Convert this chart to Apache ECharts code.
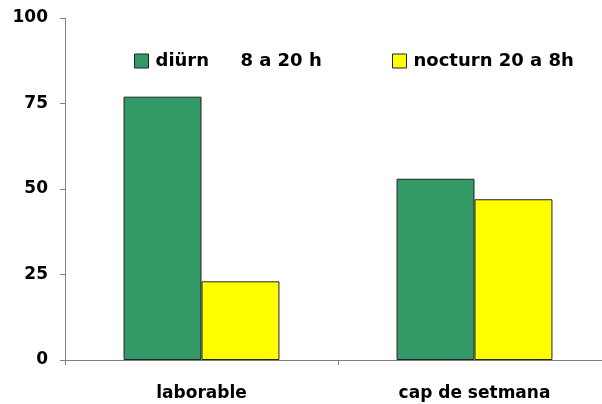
<!DOCTYPE html>
<html>
<head>
<meta charset="utf-8">
<script src="https://cdn.jsdelivr.net/npm/echarts@6/dist/echarts.min.js"></script>
<style>
  html, body { margin: 0; padding: 0; background: #fff; overflow: hidden; width: 602px; height: 404px; }
  /* the drawing surface is a little wider than the window; the right end of the x axis runs off-screen */
  #chart { width: 620px; height: 404px; }
</style>
</head>
<body>
<div id="chart"></div>
<script>
// Share of activity by time band, weekdays vs weekend
const categories = ['laborable', 'cap de setmana'];
const dayName = 'diürn     8 a 20 h';
const nightName = 'nocturn 20 a 8h';
const dayValues = [77, 53];
const nightValues = [23, 47];
const yTicks = [0, 25, 50, 75, 100];

const font = 'DejaVu Sans';
const axisGray = '#808080';

const chart = echarts.init(document.getElementById('chart'), null, { renderer: 'canvas' });

const legendBase = {
  top: 52,
  padding: 0,
  itemWidth: 14,
  itemHeight: 14,
  icon: 'rect',
  selectedMode: false,
  textStyle: { fontFamily: font, fontWeight: 'bold', fontSize: 18, color: '#000', padding: [0, 0, 0, 2] },
  itemStyle: { borderColor: '#222', borderWidth: 1 }
};

chart.setOption({
  animation: false,
  backgroundColor: '#fff',
  legend: [
    Object.assign({}, legendBase, { left: 134, data: [dayName] }),
    Object.assign({}, legendBase, { left: 392, data: [nightName] })
  ],
  grid: { left: 65, right: 9, top: 18, bottom: 44, containLabel: false },
  xAxis: {
    type: 'category',
    data: categories,
    axisLine: { lineStyle: { color: axisGray, width: 1 } },
    axisTick: { show: true, length: 5, lineStyle: { color: axisGray } },
    axisLabel: { margin: 25, color: '#000', fontFamily: font, fontWeight: 'bold', fontSize: 17 }
  },
  yAxis: {
    type: 'value',
    min: yTicks[0],
    max: yTicks[yTicks.length - 1],
    interval: yTicks[1] - yTicks[0],
    splitLine: { show: false },
    axisLine: { show: true, lineStyle: { color: axisGray, width: 1 } },
    axisTick: { show: true, length: 5, lineStyle: { color: axisGray } },
    axisLabel: { margin: 17, color: '#000', fontFamily: font, fontWeight: 'bold', fontSize: 17 }
  },
  series: [
    {
      name: dayName,
      type: 'bar',
      data: dayValues,
      barGap: '0%',
      barCategoryGap: '42.9%',
      itemStyle: { color: '#339966', borderColor: '#222', borderWidth: 1 }
    },
    {
      name: nightName,
      type: 'bar',
      data: nightValues,
      barGap: '0%',
      barCategoryGap: '42.9%',
      itemStyle: { color: '#ffff00', borderColor: '#222', borderWidth: 1 }
    }
  ]
});
</script>
</body>
</html>
